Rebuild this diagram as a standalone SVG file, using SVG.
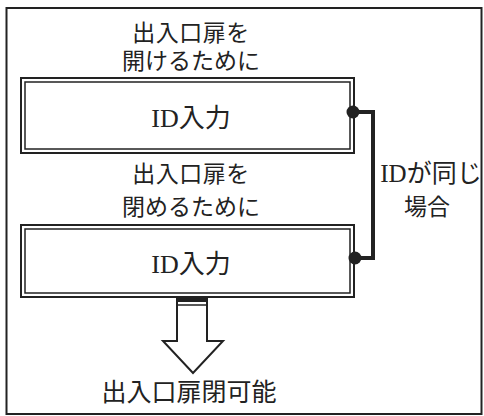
<svg xmlns="http://www.w3.org/2000/svg" width="484" height="416" viewBox="0 0 484 416">
<style>
.t{font-family:"Liberation Serif","Noto Sans CJK JP",serif;font-size:23px;fill:#222;text-anchor:middle}
.id{font-size:26px}
.o{fill:none;stroke:#222;stroke-width:2}
.i{fill:none;stroke:#222;stroke-width:1.5}
</style>
<rect x="0" y="0" width="484" height="416" fill="#fff"/>
<rect x="6.5" y="8" width="475" height="406" fill="none" stroke="#222" stroke-width="2"/>
<g id="label-open">
<text class="t" x="191" y="41" letter-spacing="0.5">出入口扉を</text>
<text class="t" x="191" y="69">開けるために</text>
</g>
<g id="box-open">
<rect class="o" x="21" y="78" width="333" height="75"/>
<rect class="i" x="25" y="82" width="325" height="67"/>
<text class="t id" x="191" y="127">ID入力</text>
</g>
<g id="label-close">
<text class="t" x="191" y="182" letter-spacing="0.5">出入口扉を</text>
<text class="t" x="191" y="215">閉めるために</text>
</g>
<g id="box-close">
<rect class="o" x="21" y="225" width="333" height="72"/>
<rect class="i" x="25" y="229" width="325" height="64"/>
<text class="t id" x="191" y="273">ID入力</text>
</g>
<g id="label-same">
<text class="t" x="431" y="182" style="font-size:25px">IDが同じ</text>
<text class="t" x="427" y="215">場合</text>
</g>
<g id="connectors">
<path d="M353,112 H373 V258 H355" fill="none" stroke="#222" stroke-width="4"/>
<circle cx="353" cy="112" r="6.5" fill="#222"/>
<circle cx="355" cy="258" r="6.5" fill="#222"/>
<path d="M177,297 V341 H163 L193,373 L223,341 H207 V297" fill="#fff" stroke="#222" stroke-width="2" stroke-linejoin="miter"/>
<rect x="177" y="297" width="30" height="5" fill="#222"/>
<line x1="177" y1="305" x2="207" y2="305" stroke="#222" stroke-width="1.5"/>
</g>
<g id="label-result">
<text class="t" x="189" y="401" style="font-size:25px">出入口扉閉可能</text>
</g>
</svg>
